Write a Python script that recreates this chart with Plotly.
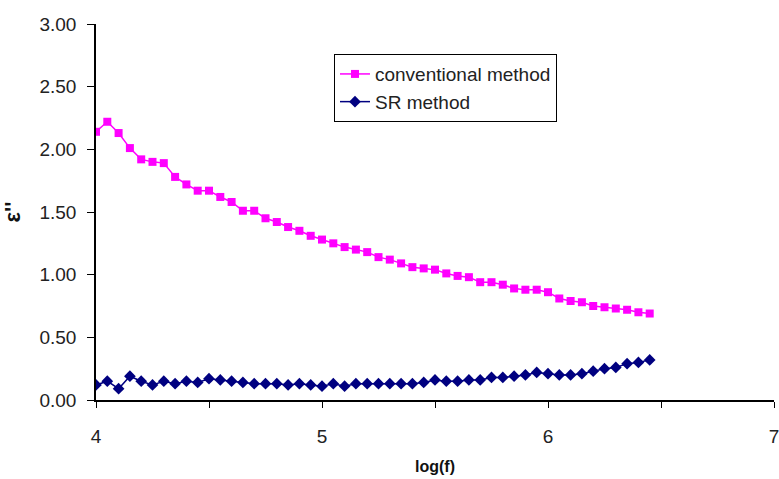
import plotly.graph_objects as go

# log(f) sample points, 4.00 .. 6.45
log_f = [4.00, 4.05, 4.10, 4.15, 4.20, 4.25, 4.30, 4.35, 4.40, 4.45,
         4.50, 4.55, 4.60, 4.65, 4.70, 4.75, 4.80, 4.85, 4.90, 4.95,
         5.00, 5.05, 5.10, 5.15, 5.20, 5.25, 5.30, 5.35, 5.40, 5.45,
         5.50, 5.55, 5.60, 5.65, 5.70, 5.75, 5.80, 5.85, 5.90, 5.95,
         6.00, 6.05, 6.10, 6.15, 6.20, 6.25, 6.30, 6.35, 6.40, 6.45]

conventional = [2.14, 2.22, 2.13, 2.01, 1.92, 1.90, 1.89, 1.78, 1.72, 1.67,
                1.67, 1.62, 1.58, 1.51, 1.51, 1.45, 1.42, 1.38, 1.35, 1.31,
                1.28, 1.25, 1.22, 1.20, 1.18, 1.14, 1.12, 1.09, 1.06, 1.05,
                1.04, 1.01, 0.99, 0.98, 0.94, 0.94, 0.92, 0.89, 0.88, 0.88,
                0.86, 0.81, 0.79, 0.78, 0.75, 0.74, 0.73, 0.72, 0.70, 0.69]

sr = [0.12, 0.15, 0.09, 0.19, 0.15, 0.12, 0.15, 0.13, 0.15, 0.14,
      0.17, 0.16, 0.15, 0.14, 0.13, 0.13, 0.13, 0.12, 0.13, 0.12,
      0.11, 0.13, 0.11, 0.13, 0.13, 0.13, 0.13, 0.13, 0.13, 0.14,
      0.16, 0.15, 0.15, 0.16, 0.16, 0.18, 0.18, 0.19, 0.20, 0.22,
      0.21, 0.20, 0.20, 0.21, 0.23, 0.25, 0.26, 0.29, 0.30, 0.32]

x_ticks = [4, 5, 6, 7]

fig = go.Figure()
fig.add_trace(go.Scatter(
    x=log_f, y=conventional, name="conventional method",
    mode="lines+markers",
    line=dict(color="#FF00FF", width=1.5),
    marker=dict(symbol="square", size=8, color="#FF00FF"),
))
fig.add_trace(go.Scatter(
    x=log_f, y=sr, name="SR method",
    mode="lines+markers",
    line=dict(color="#000080", width=1.5),
    marker=dict(symbol="diamond", size=9, color="#000080"),
))

fig.update_layout(
    width=779, height=479,
    margin=dict(l=96, r=0, t=24, b=79),
    plot_bgcolor="white", paper_bgcolor="white",
    font=dict(family="Liberation Sans, Arial, sans-serif", size=19, color="#222"),
    showlegend=True,
    legend=dict(
        x=0.351, y=0.92, xanchor="left", yanchor="top",
        bgcolor="white", bordercolor="black", borderwidth=1,
        font=dict(size=19, color="#222"),
    ),
    xaxis=dict(
        range=[4, 7], tickvals=x_ticks, ticktext=[str(v) for v in x_ticks],
        showgrid=False, zeroline=False,
        showline=True, linecolor="black", linewidth=1.5,
        ticks="outside", ticklen=6, tickcolor="black",
        minor=dict(ticks="outside", dtick=0.5, tick0=4, ticklen=6, tickcolor="black"),
        ticklabelstandoff=12, ticklabeloverflow="allow",
        title=dict(text="<b>log(f)</b>", font=dict(size=16, color="#111"), standoff=15),
    ),
    yaxis=dict(
        range=[0, 3], dtick=0.5, tickformat=".2f",
        showgrid=False, zeroline=False,
        showline=True, linecolor="black", linewidth=1.5,
        ticks="outside", ticklen=7, tickcolor="black",
        ticklabelstandoff=7,
        title=dict(text="<b>ε''</b>", font=dict(size=22, color="#111"), standoff=14),
    ),
)

# drop the page's default body margin so the figure sits at the window's corner
fig.write_html("out.html", config={"displayModeBar": False},
               post_script="document.body.style.margin='0';")
